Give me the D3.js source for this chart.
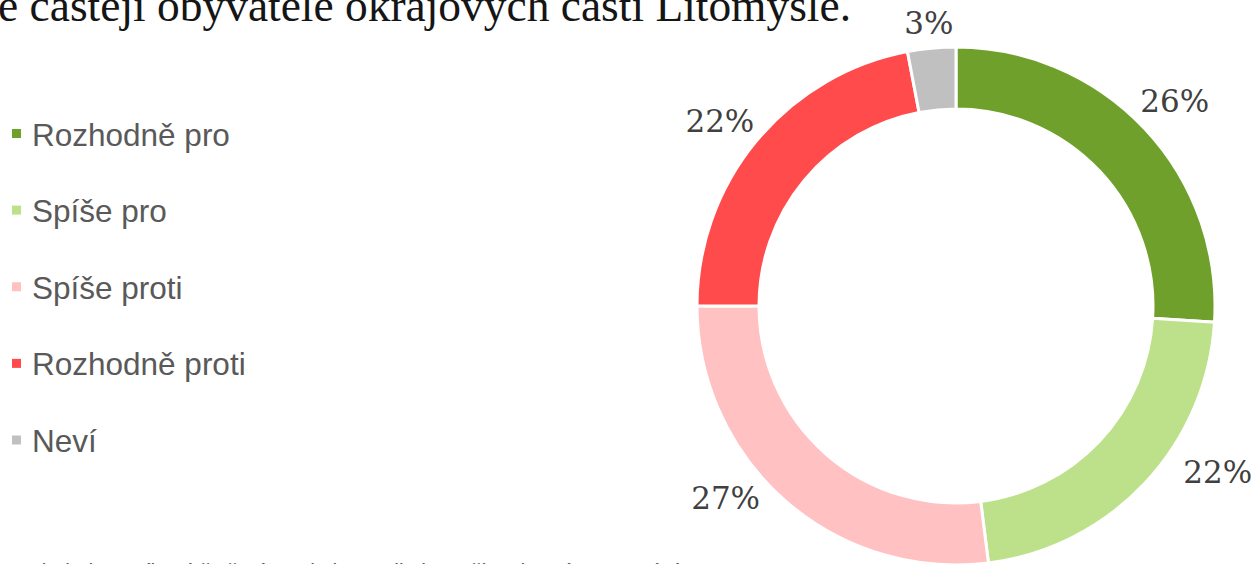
<!DOCTYPE html>
<html><head><meta charset="utf-8">
<script src="https://cdn.jsdelivr.net/npm/d3@7/dist/d3.min.js"></script>
<style>html,body{margin:0;padding:0;background:#fff;overflow:hidden}</style>
</head><body>
<svg id="chart" width="1257" height="564"></svg>
<script>
const categories = ["Rozhodně pro", "Spíše pro", "Spíše proti", "Rozhodně proti", "Neví"];
const values = [26, 22, 27, 22, 3];
const colors = ["#70A02C", "#BDE18A", "#FFC1C1", "#FF4B4B", "#C0C0C0"];
const labels = ["26%", "22%", "27%", "22%", "3%"];
const titlePrefix = "Proti výstavbě jsou spíš";
const titleVisible = "e častěji obyvatelé okrajových částí Litomyšle.";
const noteText = "Zdroj: dotazníkové šetření mezi obyvateli Litomyšle, vlastní zpracování";

const svg = d3.select("#chart");
const cx = 956, cy = 306, rOut = 259, rIn = 197;

// title (cut off at top and left)
const title = svg.append("text")
  .attr("x", 851).attr("y", 21)
  .attr("text-anchor", "end")
  .attr("font-family", "Liberation Serif, serif")
  .attr("font-size", 40)
  .attr("fill", "#151515");
title.append("tspan").text(titlePrefix);
const vis = title.append("tspan").text(titleVisible);
const vw = vis.node().getComputedTextLength();
title.attr("font-size", 40 * 853 / vw);

// bottom note (cut off at bottom)
svg.append("text")
  .attr("x", 22).attr("y", 578)
  .attr("font-family", "Liberation Sans, Arial, sans-serif")
  .attr("font-size", 21)
  .attr("fill", "#595959")
  .text(noteText);

const pie = d3.pie().sort(null).value(d => d)(values);
const arc = d3.arc().innerRadius(rIn).outerRadius(rOut);
const g = svg.append("g").attr("transform", `translate(${cx},${cy})`);
g.selectAll("path").data(pie).join("path")
  .attr("d", arc)
  .attr("fill", (d, i) => colors[i])
  .attr("stroke", "#fff").attr("stroke-width", 3);

// data labels outside the ring
const labelArc = d3.arc().innerRadius(300).outerRadius(300);
const nudge = [[0, 0], [43, -39], [-32, -33], [-5, 6], [1, 16]];
g.selectAll("text.lbl").data(pie).join("text")
  .attr("class", "lbl")
  .attr("x", (d, i) => labelArc.centroid(d)[0] + nudge[i][0])
  .attr("y", (d, i) => labelArc.centroid(d)[1] + nudge[i][1])
  .attr("text-anchor", "middle")
  .attr("dominant-baseline", "central")
  .attr("font-family", "DejaVu Serif, serif")
  .attr("font-size", 31)
  .attr("fill", "#404040")
  .text((d, i) => labels[i]);

// legend
const ly = d3.scalePoint().domain(categories).range([133.5, 440]);
const items = svg.append("g").selectAll("g").data(categories).join("g")
  .attr("transform", d => `translate(0,${ly(d)})`);
items.append("rect")
  .attr("x", 12).attr("y", -4.5).attr("width", 9).attr("height", 9)
  .attr("fill", (d, i) => colors[i]);
items.append("text")
  .attr("x", 32).attr("y", 1)
  .attr("dominant-baseline", "central")
  .attr("font-family", "Liberation Sans, Arial, sans-serif")
  .attr("font-size", 31.5)
  .attr("fill", "#595959")
  .text(d => d);
</script>
</body></html>
